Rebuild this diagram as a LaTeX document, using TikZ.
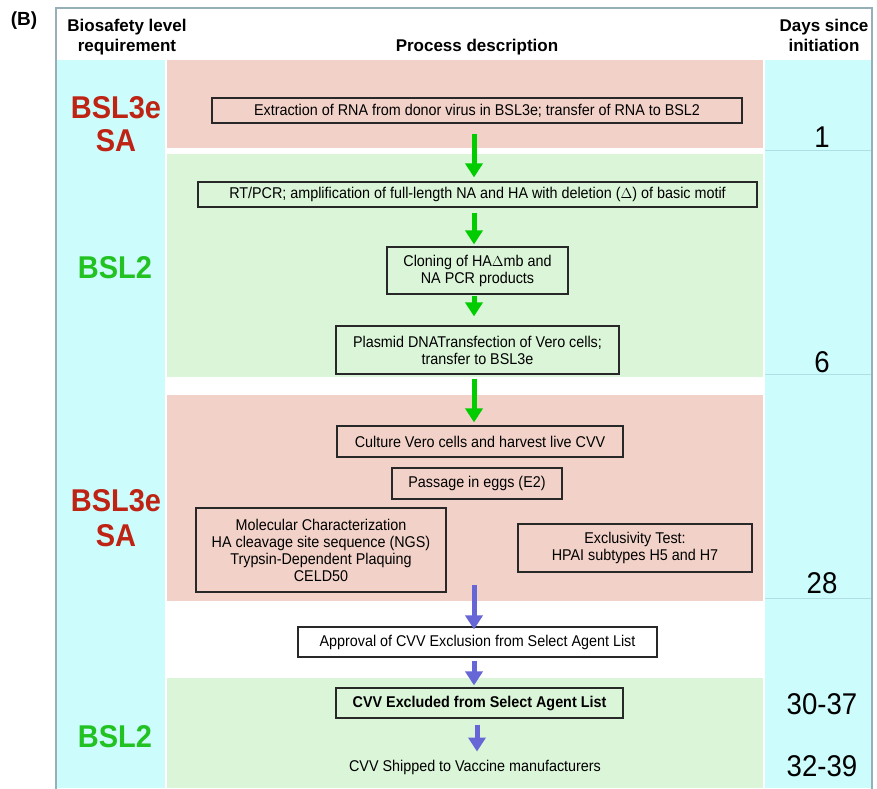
\documentclass[tikz,border=0pt]{standalone}
\usepackage{fontspec}
\setmainfont{Liberation Sans}[FakeStretch=0.92]
\newfontfamily\hdrfont{Liberation Sans}
\usetikzlibrary{arrows.meta}
\definecolor{cyanbg}{RGB}{204,252,252}
\definecolor{pinkbg}{RGB}{242,210,200}
\definecolor{greenbg}{RGB}{218,245,216}
\definecolor{bslred}{RGB}{190,35,20}
\definecolor{bslgreen}{RGB}{34,194,34}
\definecolor{garrowc}{RGB}{0,204,0}
\definecolor{barrowc}{RGB}{102,102,214}
\definecolor{framec}{RGB}{150,175,185}
\definecolor{daysline}{RGB}{175,222,228}
\definecolor{boxline}{RGB}{40,40,40}
\tikzset{
  procbox/.style={draw=boxline, line width=1.2pt, inner sep=0pt, align=center,
    font=\fontsize{15.6}{17}\selectfont},
  plaintext/.style={inner sep=0pt, align=center, font=\fontsize{15.6}{17}\selectfont},
  bsllabel/.style={inner sep=0pt, align=center, font=\bfseries\fontsize{31.5}{34}\selectfont},
  daynum/.style={inner sep=0pt, font=\fontsize{30}{32}\selectfont},
  hdr/.style={inner sep=0pt, align=center, font=\hdrfont\bfseries\fontsize{17}{20}\selectfont},
  garrow/.style={color=garrowc, line width=5pt, -{Triangle[width=17pt,length=14pt]}},
  barrow/.style={color=barrowc, line width=5pt, -{Triangle[width=17pt,length=14pt]}}
}
\begin{document}
\begin{tikzpicture}[x=1pt,y=-1pt]
\useasboundingbox (0,0) rectangle (877,788);
% columns
\fill[cyanbg] (57,60) rectangle (165,788);
\fill[cyanbg] (765,60) rectangle (871,788);
% bands
\fill[pinkbg] (167,60) rectangle (763,148);
\fill[greenbg] (167,154) rectangle (763,377);
\fill[pinkbg] (167,395) rectangle (763,601);
\fill[greenbg] (167,678) rectangle (763,788);
% days lines
\foreach \yy in {150,374,598} \draw[daysline, line width=0.8pt] (765,\yy) -- (871,\yy);
% frame
\draw[framec, line width=1.5pt] (56,790) -- (56,8) -- (872,8) -- (872,790);
% headers
\node[hdr, font=\hdrfont\bfseries\fontsize{19}{22}\selectfont] (lab) at (24,21) {(B)};
\node[hdr] (hbsl) at (127,37) {Biosafety level\\ requirement};
\node[hdr] (hproc) at (477,47) {Process description};
\node[hdr] (hdays) at (824,35) {Days since\\initiation};
% BSL labels
\node[bsllabel, text=bslred] (bsla) at (116,124) {BSL3e\\[-1pt]SA};
\node[bsllabel, text=bslgreen] (bslb) at (115,268) {BSL2};
\node[bsllabel, text=bslred] (bslc) at (116,518) {BSL3e\\[1pt]SA};
\node[bsllabel, text=bslgreen] (bsld) at (115,737) {BSL2};
% day numbers
\node[daynum] (d1) at (822,137) {1};
\node[daynum] (d6) at (822,362) {6};
\node[daynum] (d28) at (822,583) {28};
\node[daynum] (d30) at (822,704) {30-37};
\node[daynum] (d32) at (822,766) {32-39};
% process boxes
\node[procbox, minimum width=530pt, minimum height=25pt] (b1) at (477,110.5)
  {Extraction of RNA from donor virus in BSL3e; transfer of RNA to BSL2};
\node[procbox, minimum width=559pt, minimum height=25pt] (b2) at (477.5,194.5)
  {RT/PCR; amplification of full-length NA and HA with deletion ($\Delta$) of basic motif};
\node[procbox, minimum width=181pt, minimum height=47pt] (b3) at (477.5,270.5)
  {Cloning of HA$\Delta$mb and\\NA PCR products};
\node[procbox, minimum width=283pt, minimum height=48pt] (b4) at (477.5,350)
  {Plasmid DNATransfection of Vero cells;\\transfer to BSL3e};
\node[procbox, minimum width=286pt, minimum height=31pt] (b5) at (480,441.5)
  {Culture Vero cells and harvest live CVV};
\node[procbox, minimum width=170pt, minimum height=31pt] (b6) at (477,483.5)
  {Passage in eggs (E2)};
\node[procbox, minimum width=250pt, minimum height=84pt] (b7) at (321,550)
  {Molecular Characterization\\HA cleavage site sequence (NGS)\\Trypsin-Dependent Plaquing\\CELD50};
\node[procbox, minimum width=234pt, minimum height=48pt] (b8) at (635,548)
  {Exclusivity Test:\\HPAI subtypes H5 and H7};
\node[procbox, fill=white, minimum width=359pt, minimum height=30pt] (b9) at (477.5,642)
  {Approval of CVV Exclusion from Select Agent List};
\node[procbox, minimum width=287pt, minimum height=30pt, font=\bfseries\fontsize{15.6}{17}\selectfont] (b10) at (479.5,703)
  {CVV Excluded from Select Agent List};
\node[plaintext] (b11) at (475,767) {CVV Shipped to Vaccine manufacturers};
\coordinate (bstart) at (474,585);
% arrows
\draw[garrow, shorten <=10pt, shorten >=4pt] ([xshift=-3pt]b1.south) -- ([xshift=-3pt]b1.south |- b2.north);
\draw[garrow, shorten <=5pt, shorten >=2pt] ([xshift=-3.5pt]b2.south) -- ([xshift=-3.5pt]b2.south |- b3.north);
\draw[garrow, shorten <=1pt, shorten >=9pt] ([xshift=-3.5pt]b3.south) -- ([xshift=-3.5pt]b3.south |- b4.north);
\draw[garrow, shorten <=4pt, shorten >=3pt] ([xshift=-3.5pt]b4.south) -- ([xshift=-3.5pt]b4.south |- b5.north);
\draw[barrow, shorten >=-3pt] (bstart) -- (bstart |- b9.north);
\draw[barrow, shorten <=3pt, shorten >=2pt] ([xshift=-3.5pt]b9.south) -- ([xshift=-3.5pt]b9.south |- b10.north);
\draw[barrow, shorten <=6pt, shorten >=8pt] ([xshift=-2.5pt]b10.south) -- ([xshift=-2.5pt]b10.south |- b11.north);
\end{tikzpicture}
\end{document}
